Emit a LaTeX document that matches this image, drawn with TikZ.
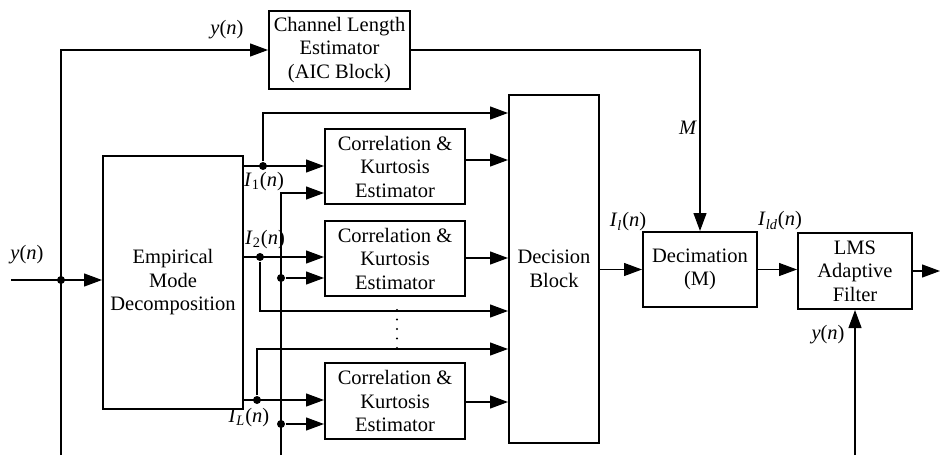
\documentclass[tikz,border=0pt]{standalone}
\usepackage{fontspec}
\setmainfont{Liberation Serif}
\usetikzlibrary{arrows.meta, positioning}

\begin{document}
\begin{tikzpicture}[x=0.5pt, y=-0.5pt, >={Triangle[length=9pt,width=6.5pt]},
    line width=0.6pt, font=\fontsize{10.25}{11.75}\selectfont,
    block/.style={draw, line width=1pt, align=center, inner sep=0pt},
    junc/.style={circle, fill, inner sep=0pt, minimum size=4pt},
    lbl/.style={inner sep=0pt}]
    \useasboundingbox (0,0) rectangle (940,455);

    \node[block, minimum width=70.5pt, minimum height=39pt] (cle) at (339.5,50) {Channel Length\\Estimator\\(AIC Block)};
    \node[block, minimum width=70pt, minimum height=126.5pt] (emd) at (173,282.5) {Empirical\\Mode\\Decomposition};
    \node[block, minimum width=70pt, minimum height=37.5pt] (cke1) at (395,166.5) {Correlation \&\\Kurtosis\\Estimator};
    \node[block, minimum width=70pt, minimum height=37.5pt] (cke2) at (395,258.5) {Correlation \&\\Kurtosis\\Estimator};
    \node[block, minimum width=70pt, minimum height=38pt] (cke3) at (395,401) {Correlation \&\\Kurtosis\\Estimator};
    \node[block, minimum width=45pt, minimum height=174pt] (db) at (554,269) {Decision\\Block};
    \node[block, minimum width=57pt, minimum height=37.5pt] (dec) at (700,269.5) {Decimation\\(M)};
    \node[block, minimum width=57pt, minimum height=38pt] (lms) at (855,271) {LMS\\Adaptive\\Filter};

    \coordinate (ysrc) at (61,455);
    \coordinate (yin) at (11,280);
    \coordinate (ybus) at (281,455);
    \coordinate (ylms) at (lms.south |- 0,455);
    \coordinate (yout) at (940,271);
    \node[junc] (jy) at (61,280) {};
    \node[junc] (j1) at (263,166) {};
    \node[junc] (j2) at (260,257) {};
    \node[junc] (jL) at (257,400) {};
    \node[junc] (jb2) at (281,278) {};
    \node[junc] (jbL) at (281,424) {};

    \draw[->] (ysrc) |- (cle.west);
    \draw[->] (yin) -- (emd.west |- yin);
    \draw[->] (emd.east |- j1) -- (cke1.west |- j1);
    \draw[->] (emd.east |- j2) -- (cke2.west |- j2);
    \draw[->] (emd.east |- jL) -- (cke3.west |- jL);
    \draw[->] (j1) |- (db.west |- 0,113);
    \draw[->] (j2) |- (db.west |- 0,311);
    \draw[->] (jL) |- (db.west |- 0,349);
    \draw[->] (ybus) |- (cke1.west |- 0,193);
    \draw[->] (jb2) -- (cke2.west |- jb2);
    \draw[->] (jbL) -- (cke3.west |- jbL);
    \draw[->] (cke1.east |- 0,160) -- (db.west |- 0,160);
    \draw[->] (cke2.east |- 0,258) -- (db.west |- 0,258);
    \draw[->] (cke3.east |- 0,402) -- (db.west |- 0,402);
    \draw[->] (db.east |- dec.west) -- (dec.west);
    \draw[->] (cle.east) -| (dec.north);
    \draw[->] (dec.east) -- (dec.east -| lms.west);
    \draw[->] (lms.east) -- (yout);
    \draw[->] (ylms) -- (lms.south);

    \foreach \yy in {310,319.5,...,349}
        \fill (397,\yy) circle (0.6pt);

    \node[lbl] (lyt) at (227,30) {\textit{y}(\textit{n})};
    \node[lbl] (lyin) at (27,255) {\textit{y}(\textit{n})};
    \node[lbl] (li1) at (264,182) {\textit{I}\textsubscript{1}(\textit{n})};
    \node[lbl] (li2) at (265,240) {\textit{I}\textsubscript{2}(\textit{n})};
    \node[lbl] (liL) at (249,418) {\textit{I}\textsubscript{\textit{L}}(\textit{n})};
    \node[lbl] (lil) at (628,222) {\textit{I}\textsubscript{\textit{l}}(\textit{n})};
    \node[lbl] (lild) at (780,221) {\textit{I}\textsubscript{\textit{ld}}(\textit{n})};
    \node[lbl] (lm) at (688,128) {\textit{M}};
    \node[lbl] (lyl) at (828,335) {\textit{y}(\textit{n})};
\end{tikzpicture}
\end{document}
